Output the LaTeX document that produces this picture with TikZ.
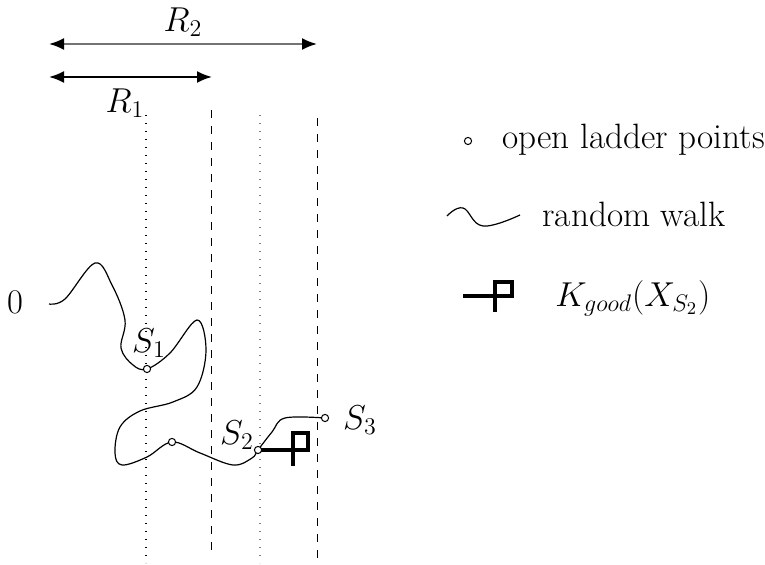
\documentclass[tikz,border=0pt]{standalone}
\usepackage{amsmath,amssymb}
\usepackage{tikz}
\usetikzlibrary{arrows.meta,positioning,calc}
\usepackage{xcolor}

\begin{document}
\begin{tikzpicture}[
    x=0.5pt, y=-0.5pt,
    font=\fontsize{17.6}{21}\selectfont,
    arr/.style={{Latex[length=7.5pt,width=6pt,color=black]}-{Latex[length=7.5pt,width=6pt,color=black]}, line width=1pt},
    walk/.style={line width=0.6pt},
    ladder/.style={draw, circle, inner sep=0pt, minimum size=3.6pt, line width=0.5pt, fill=white},
    dotline/.style={line width=0.6pt, dash pattern=on 0.6pt off 3.4pt},
    dashline/.style={line width=0.5pt, dash pattern=on 4pt off 4pt},
    kgood/.style={line width=2pt},
    lbl/.style={anchor=west, inner sep=0pt}
  ]
    \useasboundingbox (0,0) rectangle (765,565);
    % radii
    \coordinate (o) at (49,44);
    \coordinate (r2) at (317,44);
    \coordinate (r1) at (212,77);
    \draw[arr, draw=black!55] (o) -- (r2);
    \draw[arr] (o |- r1) -- (r1);
    \node (lr2) at (183,22) {$R_2$};
    \node (lr1) at (125,103) {$R_1$};
    % strips
    \draw[dotline] (146,115) coordinate (a1) -- (146,563) coordinate (a2);
    \draw[dashline] (211,110) coordinate (b1) -- (211,555) coordinate (b2);
    \draw[dotline, draw=black!50] (260,115) coordinate (c1) -- (260,563) coordinate (c2);
    \draw[dashline] (317,118) coordinate (d1) -- (317,563) coordinate (d2);
    % walk
    \coordinate (s1) at (147,369);
    \coordinate (m) at (172,442);
    \coordinate (s2) at (258,450);
    \coordinate (s3) at (325,418);
    \draw[walk] plot[smooth, tension=0.6] coordinates {(49,304) (65,299) (95,263) (112,285) (125,320) (121,348) (133,365) (s1) (170,353) (197,320) (206,350) (197,387) (173,402) (140,411) (120,427) (115,453) (122,465) (147,457) (m) (200,453) (233,465) (252,458) (s2) (272,432) (285,418) (s3)};
    \draw[kgood] (s2) -- (308,450) -- (308,433) -- (293,433) -- (293,466);
    \node[ladder] at (s1) {};
    \node[ladder] at (m) {};
    \node[ladder] at (s2) {};
    \node[ladder] at (s3) {};
    \node (zero) at (15,302) {$0$};
    \node (ls1) at (149,343) {$S_1$};
    \node (ls2) at (237,435) {$S_2$};
    \node (ls3) at (360,420) {$S_3$};
    % legend
    \node[ladder] (key1) at (468,141) {};
    \node[lbl] (t1) at (502,140) {open ladder points};
    \draw[walk] plot[smooth, tension=0.7] coordinates {(447,216) (463,208) (483,226) (520,215)};
    \node[lbl] (t2) at (542,214) {random walk};
    \draw[kgood] (463,296) -- (512,296) -- (512,282) -- (495,282) -- (495,312);
    \node[lbl] (t3) at (555,298) {$K_{good}(X_{S_2})$};
\end{tikzpicture}
\end{document}
